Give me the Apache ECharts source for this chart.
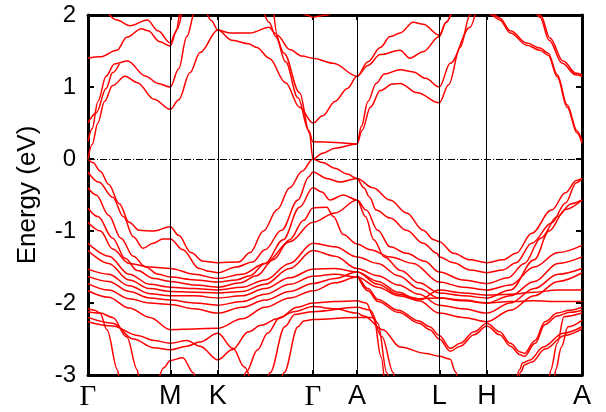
<!DOCTYPE html>
<html>
<head>
<meta charset="utf-8">
<script src="https://cdn.jsdelivr.net/npm/echarts@6/dist/echarts.min.js"></script>
<style>
  html, body { margin: 0; padding: 0; background: #ffffff; }
  #chart { width: 606px; height: 412px; }
</style>
</head>
<body>
<div id="chart"></div>
<script>
// High-symmetry points along the k-path (path length, Γ-M = 1)
const kTicks  = [0, 1, 1.577, 2.732, 3.267, 4.267, 4.845, 6.0];
const kLabels = ['Γ', 'M', 'K', 'Γ', 'A', 'L', 'H', 'A'];

// Energy axis (eV)
const eMin = -3, eMax = 2, eStep = 1;

// ---- Conduction bands: [k, E] ----
const cbA = [[0,0],[0.05,0.2],[0.12,0.5],[0.2,0.8],[0.3,1.02],[0.45,1.15],[0.6,1.06],[0.8,0.83],[1,0.69],[1.1,0.82],[1.24,1.2],[1.36,1.48],[1.577,1.79],[1.72,1.75],[1.97,1.75],[2.2,1.83],[2.27,1.75],[2.38,1.47],[2.57,0.92],[2.69,0.36],[2.732,0],[2.85,0.08],[3.0,0.15],[3.267,0.21],[3.33,0.4],[3.43,0.72],[3.55,0.95],[3.7,1.04],[3.79,1.05],[4.0,0.92],[4.267,0.78],[4.38,1.03],[4.52,1.55],[4.64,2.0],[4.7,2.2]];
const cbB = [[0,0.24],[0.05,0.42],[0.12,0.8],[0.22,1.15],[0.32,1.32],[0.48,1.36],[0.7,1.15],[0.85,1.05],[1,1.0],[1.1,1.25],[1.2,1.7],[1.3,2.05],[1.4,2.1],[1.5,1.92],[1.577,1.79],[1.75,1.65],[1.95,1.6],[2.05,1.55],[2.2,1.4],[2.4,1.06],[2.57,0.72],[2.732,0.5],[2.85,0.6],[3.0,0.8],[3.15,0.98],[3.267,1.15],[3.4,1.35],[3.55,1.55],[3.67,1.7],[3.79,1.75],[3.95,1.9],[4.07,1.87],[4.267,1.72],[4.35,1.9],[4.45,2.15]];
const cbC = [[0,0.5],[0.1,0.64],[0.22,0.98],[0.3,1.2],[0.38,1.32]];
const cbD = [[0,1.4],[0.15,1.42],[0.35,1.51],[0.47,1.69],[0.65,1.81],[0.73,1.78],[0.87,1.63],[1,1.57],[1.08,1.8],[1.15,2.1]];
const cbE = [[0.2,2.1],[0.35,1.93],[0.51,1.85],[0.72,1.93],[0.85,1.78],[1,1.61],[1.06,1.75],[1.12,2.1]];
const cbF = [[2.12,2.1],[2.2,1.9],[2.28,1.7],[2.4,1.35],[2.55,0.85],[2.68,0.4],[2.732,0.24],[3.0,0.23],[3.267,0.21],[3.32,0.45],[3.4,0.8],[3.5,1.05],[3.6,1.18],[3.79,1.24],[3.95,1.21],[4.1,1.12],[4.267,1.0],[4.4,1.33],[4.64,1.83],[4.72,2.1]];
const cbG = [[2.25,2.1],[2.3,1.72],[2.45,1.52],[2.6,1.43],[2.732,1.4],[2.98,1.33],[3.267,1.15],[3.4,1.3],[3.55,1.45],[3.79,1.51],[3.91,1.4],[4.07,1.49],[4.267,1.7],[4.35,1.9],[4.43,2.1]];
const cbTop = [[2.55,2.1],[2.65,2.0],[2.732,1.97],[2.9,2.0],[3.0,2.05],[3.1,2.1]];
const cbH1 = [[4.8,2.2],[4.9,2.0],[5.0,1.93],[5.13,1.75],[5.33,1.58],[5.49,1.51],[5.59,1.44],[5.7,1.14],[5.82,0.72],[5.94,0.36],[6,0.22]];
const cbH2 = [[4.8,2.22],[4.9,2.03],[5.0,1.96],[5.13,1.78],[5.33,1.61],[5.49,1.54],[5.59,1.47],[5.7,1.17],[5.82,0.75],[5.94,0.39],[6,0.25]];
const cbI1 = [[5.4,2.15],[5.49,1.97],[5.6,1.65],[5.76,1.33],[5.92,1.17],[6,1.15]];
const cbI2 = [[5.41,2.15],[5.5,1.99],[5.61,1.68],[5.77,1.36],[5.93,1.19],[6,1.17]];

// ---- Valence bands: [k, E] ----
const vb1 = [[0,0],[0.06,-0.05],[0.15,-0.17],[0.25,-0.35],[0.38,-0.62],[0.5,-0.88],[0.62,-0.99],[0.8,-1.0],[1,-0.94],[1.1,-1.06],[1.25,-1.3],[1.4,-1.42],[1.577,-1.44],[1.83,-1.43],[1.97,-1.3],[2.13,-1.0],[2.3,-0.7],[2.45,-0.4],[2.6,-0.17],[2.732,0],[2.85,-0.05],[3.0,-0.13],[3.15,-0.21],[3.267,-0.27],[3.46,-0.4],[3.67,-0.57],[3.87,-0.75],[4.07,-0.99],[4.2,-1.12],[4.267,-1.15],[4.44,-1.31],[4.64,-1.4],[4.845,-1.44],[5.04,-1.4],[5.2,-1.31],[5.39,-1.03],[5.63,-0.71],[5.8,-0.47],[5.93,-0.3],[6,-0.27]];
const vb2 = [[0,-0.18],[0.13,-0.32],[0.3,-0.53],[0.43,-0.8],[0.55,-1.08],[0.67,-1.24],[0.79,-1.17],[0.91,-1.11],[1,-1.11],[1.15,-1.26],[1.35,-1.52],[1.47,-1.56],[1.577,-1.58],[1.8,-1.5],[2.0,-1.43],[2.15,-1.26],[2.35,-0.99],[2.55,-0.57],[2.68,-0.25],[2.732,-0.18],[2.9,-0.27],[3.06,-0.32],[3.267,-0.27],[3.35,-0.4],[3.42,-0.53],[3.5,-0.71],[3.67,-0.82],[3.87,-0.99],[4.07,-1.17],[4.24,-1.31],[4.267,-1.36],[4.44,-1.44],[4.64,-1.54],[4.845,-1.58],[5.04,-1.54],[5.2,-1.44],[5.39,-1.17],[5.63,-0.89],[5.8,-0.61],[5.93,-0.33],[6,-0.27]];
const vb3 = [[0,-0.4],[0.1,-0.5],[0.25,-0.78],[0.4,-1.1],[0.55,-1.35],[0.7,-1.5],[0.85,-1.6],[1,-1.64],[1.3,-1.68],[1.577,-1.71],[1.8,-1.68],[1.97,-1.62],[2.15,-1.45],[2.37,-1.12],[2.57,-0.67],[2.732,-0.4],[2.84,-0.46],[2.94,-0.57],[3.1,-0.5],[3.267,-0.57],[3.38,-0.71],[3.52,-0.99],[3.67,-1.22],[3.87,-1.31],[4.09,-1.42],[4.267,-1.57],[4.556,-1.68],[4.845,-1.73],[5.1,-1.65],[5.3,-1.45],[5.5,-1.1],[5.7,-0.8],[5.87,-0.62],[6,-0.57]];
const vb4 = [[0,-0.68],[0.12,-0.8],[0.3,-1.1],[0.45,-1.38],[0.6,-1.55],[0.8,-1.66],[1,-1.7],[1.3,-1.75],[1.577,-1.78],[1.85,-1.72],[2.05,-1.62],[2.25,-1.4],[2.45,-1.12],[2.62,-0.85],[2.732,-0.68],[2.9,-0.67],[2.98,-0.8],[3.1,-1.05],[3.267,-1.18],[3.43,-1.26],[3.67,-1.36],[3.95,-1.45],[4.267,-1.71],[4.556,-1.78],[4.845,-1.82],[5.13,-1.75],[5.42,-1.5],[5.71,-1.3],[6,-1.2]];
const vb5 = [[0,-0.88],[0.15,-1.0],[0.3,-1.25],[0.5,-1.45],[0.75,-1.5],[1,-1.52],[1.29,-1.6],[1.577,-1.66],[1.87,-1.6],[2.15,-1.45],[2.45,-1.15],[2.732,-0.88],[3.0,-0.75],[3.267,-0.57],[3.37,-0.8],[3.47,-1.12],[3.6,-1.36],[3.8,-1.55],[4.02,-1.72],[4.267,-1.86],[4.556,-1.9],[4.845,-1.93],[5.13,-1.82],[5.42,-1.4],[5.6,-1.0],[5.8,-0.7],[6,-0.57]];
const vb6 = [[0,-1.17],[0.25,-1.35],[0.5,-1.6],[0.75,-1.74],[1,-1.78],[1.29,-1.8],[1.577,-1.82],[1.87,-1.78],[2.15,-1.68],[2.45,-1.45],[2.732,-1.17],[3.0,-1.22],[3.267,-1.36],[3.52,-1.45],[3.77,-1.62],[4.02,-1.8],[4.267,-1.93],[4.556,-1.97],[4.845,-2.0],[5.13,-1.9],[5.42,-1.7],[5.71,-1.45],[6,-1.36]];
const vb7 = [[0,-1.27],[0.25,-1.45],[0.5,-1.68],[0.75,-1.8],[1,-1.84],[1.29,-1.85],[1.577,-1.86],[1.87,-1.84],[2.15,-1.74],[2.45,-1.52],[2.732,-1.27],[3.0,-1.35],[3.267,-1.52],[3.52,-1.62],[3.77,-1.75],[4.02,-1.88],[4.267,-2.03],[4.556,-2.08],[4.845,-2.14],[5.13,-2.0],[5.42,-1.8],[5.71,-1.6],[6,-1.52]];
const vb8 = [[0,-1.53],[0.25,-1.6],[0.5,-1.76],[0.75,-1.87],[1,-1.9],[1.29,-1.9],[1.577,-1.93],[1.87,-1.9],[2.15,-1.8],[2.45,-1.65],[2.732,-1.53],[3.0,-1.52],[3.267,-1.57],[3.52,-1.7],[3.77,-1.85],[4.02,-1.97],[4.267,-2.14],[4.556,-2.2],[4.845,-2.26],[5.13,-2.1],[5.42,-1.9],[5.71,-1.7],[6,-1.58]];
const vb9 = [[0,-1.63],[0.25,-1.7],[0.5,-1.84],[0.75,-1.93],[1,-1.96],[1.29,-2.0],[1.577,-2.03],[1.87,-1.98],[2.15,-1.88],[2.45,-1.74],[2.732,-1.63],[3.0,-1.6],[3.267,-1.64],[3.52,-1.78],[3.77,-1.9],[4.02,-1.96],[4.267,-1.82],[4.556,-1.86],[4.845,-1.89],[5.13,-1.88],[5.42,-1.85],[5.71,-1.82],[6,-1.82]];
const vb10 = [[0,-1.73],[0.25,-1.82],[0.5,-1.94],[0.75,-2.0],[1,-2.02],[1.29,-2.08],[1.577,-2.14],[1.87,-2.06],[2.15,-1.96],[2.45,-1.84],[2.732,-1.73],[3.0,-1.66],[3.267,-1.57],[3.52,-1.74],[3.77,-1.88],[4.02,-1.94],[4.267,-1.93],[4.556,-1.96],[4.845,-2.0],[5.13,-1.98],[5.42,-1.97],[5.71,-1.98],[6,-1.98]];
const vb11 = [[0,-1.83],[0.25,-1.92],[0.5,-2.07],[0.75,-2.2],[1,-2.37],[1.29,-2.36],[1.577,-2.35],[1.87,-2.22],[2.15,-2.06],[2.45,-1.93],[2.732,-1.83],[3.0,-1.72],[3.267,-1.64],[3.4,-1.8],[3.52,-1.95],[3.77,-2.1],[4.02,-2.25],[4.15,-2.33],[4.267,-2.45],[4.4,-2.63],[4.52,-2.56],[4.69,-2.4],[4.845,-2.28],[5.0,-2.4],[5.13,-2.56],[5.25,-2.68],[5.3,-2.7],[5.43,-2.52],[5.55,-2.26],[5.7,-2.14],[5.85,-2.1],[6,-2.06]];
const vb11b = [[3.267,-1.6],[3.4,-1.83],[3.52,-1.98],[3.77,-2.13],[4.02,-2.28],[4.15,-2.37],[4.267,-2.5],[4.4,-2.67],[4.52,-2.6],[4.69,-2.44],[4.845,-2.32],[5.0,-2.44],[5.13,-2.6],[5.25,-2.72],[5.3,-2.74],[5.43,-2.56],[5.55,-2.3],[5.7,-2.18],[5.85,-2.13],[6,-2.1]];
const vb12 = [[0,-2.26],[0.3,-2.32],[0.6,-2.45],[0.8,-2.52],[1,-2.56],[1.2,-2.52],[1.36,-2.6],[1.577,-2.79],[1.75,-2.65],[1.95,-2.4],[2.1,-2.31],[2.3,-2.22],[2.5,-2.12],[2.732,-2.05],[3.0,-2.08],[3.267,-2.14],[3.35,-2.18],[3.58,-2.37],[3.79,-2.61],[4.1,-2.7],[4.267,-2.74],[4.4,-2.78],[4.46,-2.95],[4.5,-3.1]];
const vb13 = [[0,-2.2],[0.3,-2.28],[0.55,-2.5],[0.8,-2.62],[1,-2.65],[1.2,-2.6],[1.36,-2.54],[1.577,-2.42],[1.76,-2.63],[1.9,-2.89],[1.98,-3.1]];
const vbS1 = [[0,-2.08],[0.08,-2.1],[0.146,-2.14],[0.23,-2.37],[0.36,-2.93],[0.38,-3.1]];
const vbS2 = [[0,-2.12],[0.15,-2.14],[0.3,-2.2],[0.47,-2.47],[0.6,-2.93],[0.62,-3.1]];
const vbM = [[0.85,-3.1],[0.92,-2.9],[1,-2.8],[1.15,-2.76],[1.28,-2.97],[1.31,-3.1]];
const vbMesa0 = [[1.88,-3.1],[1.92,-2.96],[2.06,-2.65],[2.18,-2.42],[2.33,-2.2],[2.54,-2.06],[2.732,-2.0],[3.0,-1.98],[3.267,-1.97],[3.38,-2.0],[3.47,-2.2],[3.56,-2.75],[3.6,-3.1]];
const vbMesa1 = [[2.17,-3.1],[2.21,-2.97],[2.39,-2.33],[2.51,-2.16],[2.732,-2.12],[3.267,-2.06],[3.43,-2.1],[3.52,-2.28],[3.63,-2.97],[3.66,-3.1]];
const vbMesa2 = [[2.34,-3.1],[2.38,-2.97],[2.55,-2.33],[2.62,-2.25],[2.732,-2.23],[3.267,-2.2],[3.45,-2.2],[3.57,-2.47],[3.71,-2.97],[3.73,-3.1]];
const vbR1 = [[5.6,-3.1],[5.62,-2.93],[5.7,-2.56],[5.78,-2.19],[6,-2.14]];
const vbR3 = [[5.66,-3.1],[5.68,-2.93],[5.75,-2.61],[5.83,-2.33],[6,-2.24]];
const vbR2a = [[5.2,-3.1],[5.24,-2.93],[5.28,-2.83],[5.37,-2.79],[5.53,-2.61],[5.77,-2.42],[6,-2.33]];
const vbR2b = [[5.22,-3.1],[5.26,-2.95],[5.3,-2.86],[5.39,-2.82],[5.55,-2.64],[5.79,-2.45],[6,-2.36]];

const bands = [
  cbA, cbB, cbC, cbD, cbE, cbF, cbG, cbTop, cbH1, cbH2, cbI1, cbI2,
  vb1, vb2, vb3, vb4, vb5, vb6, vb7, vb8, vb9, vb10, vb11, vb11b, vb12, vb13,
  vbS1, vbS2, vbM, vbMesa0, vbMesa1, vbMesa2, vbR1, vbR3, vbR2a, vbR2b
];

const FONT = 'Liberation Sans';

function labelFor(v) {
  let best = 0;
  for (let i = 1; i < kTicks.length; i++) {
    if (Math.abs(kTicks[i] - v) < Math.abs(kTicks[best] - v)) best = i;
  }
  const t = kLabels[best];
  return t === 'Γ' ? '{g|Γ}' : t;
}

const chart = echarts.init(document.getElementById('chart'), null, { renderer: 'canvas' });

// thin vertical guides at the interior high-symmetry points
const guideSeries = {
  type: 'line',
  data: [],
  xAxisIndex: 0,
  yAxisIndex: 0,
  z: 1,
  markLine: {
    silent: true,
    animation: false,
    symbol: ['none', 'none'],
    label: { show: false },
    lineStyle: { color: '#000000', width: 1, type: 'solid' },
    data: kTicks.slice(1, -1).map(v => ({ xAxis: v }))
  }
};

// Fermi level, dash-dot
const zeroSeries = {
  type: 'line',
  data: [],
  xAxisIndex: 0,
  yAxisIndex: 0,
  z: 1,
  markLine: {
    silent: true,
    animation: false,
    symbol: ['none', 'none'],
    label: { show: false },
    lineStyle: { color: '#000000', width: 1, type: [7, 2, 1, 2] },
    data: [{ yAxis: 0 }]
  }
};

const bandSeries = bands.map(b => ({
  type: 'line',
  data: b,
  xAxisIndex: 0,
  yAxisIndex: 0,
  showSymbol: false,
  smooth: 0.35,
  smoothMonotone: 'x',
  clip: true,
  silent: true,
  z: 2,
  lineStyle: { color: '#ff0000', width: 1.5 }
}));

const frameLine = { show: true, onZero: false, lineStyle: { color: '#000000', width: 3 } };

chart.setOption({
  animation: false,
  backgroundColor: '#ffffff',
  grid: { left: 88, right: 24, top: 15, bottom: 37, containLabel: false },
  xAxis: [
    {
      type: 'value', min: kTicks[0], max: kTicks[kTicks.length - 1],
      position: 'bottom',
      axisLine: frameLine,
      axisTick: { show: true, inside: true, length: 5, customValues: kTicks, lineStyle: { color: '#000', width: 2 } },
      axisLabel: {
        show: true, customValues: kTicks, margin: 8,
        fontFamily: FONT, fontSize: 27, color: '#000',
        formatter: v => labelFor(v),
        rich: { g: { fontFamily: 'Liberation Serif', fontSize: 29, color: '#000' } }
      },
      splitLine: { show: false }
    },
    {
      type: 'value', min: kTicks[0], max: kTicks[kTicks.length - 1],
      position: 'top',
      axisLine: frameLine,
      axisTick: { show: true, inside: true, length: 5, customValues: kTicks, lineStyle: { color: '#000', width: 2 } },
      axisLabel: { show: false },
      splitLine: { show: false }
    }
  ],
  yAxis: [
    {
      type: 'value', min: eMin, max: eMax, interval: eStep,
      position: 'left',
      name: 'Energy (eV)', nameLocation: 'middle', nameGap: 47,
      nameTextStyle: { fontFamily: FONT, fontSize: 26, color: '#000' },
      axisLine: frameLine,
      axisTick: { show: true, inside: true, length: 6, lineStyle: { color: '#000', width: 2 } },
      axisLabel: { show: true, margin: 12, fontFamily: FONT, fontSize: 24, color: '#000' },
      splitLine: { show: false }
    },
    {
      type: 'value', min: eMin, max: eMax, interval: eStep,
      position: 'right',
      axisLine: frameLine,
      axisTick: { show: true, inside: true, length: 6, lineStyle: { color: '#000', width: 2 } },
      axisLabel: { show: false },
      splitLine: { show: false }
    }
  ],
  series: [guideSeries, zeroSeries].concat(bandSeries)
});
</script>
</body>
</html>
